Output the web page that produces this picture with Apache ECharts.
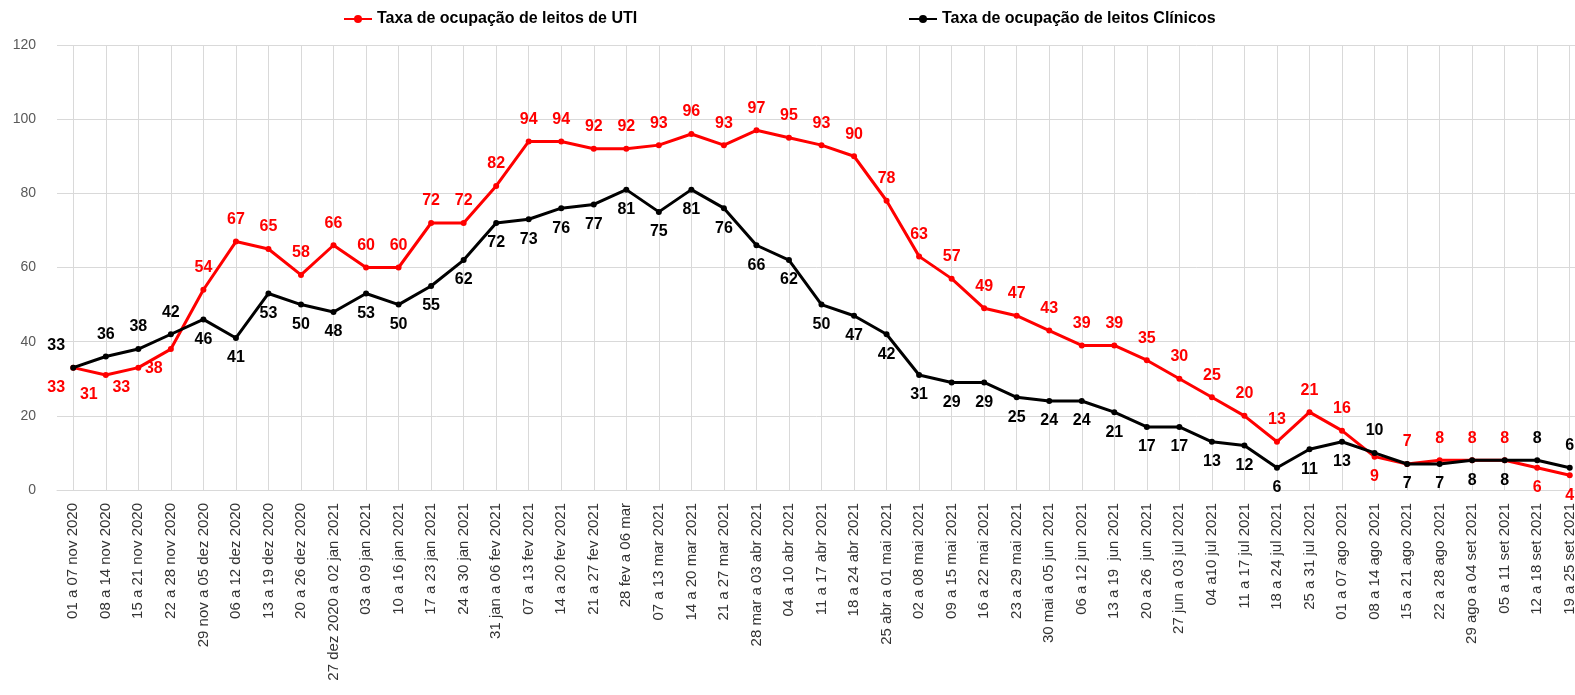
<!DOCTYPE html>
<html>
<head>
<meta charset="utf-8">
<script src="https://cdn.jsdelivr.net/npm/echarts@6/dist/echarts.min.js"></script>
<style>
html,body{margin:0;padding:0;background:#fff;}
#chart{width:1575px;height:695px;}
</style>
</head>
<body>
<div id="chart"></div>
<script>
const categories = [
  "01 a 07 nov 2020","08 a 14 nov 2020","15 a 21 nov 2020","22 a 28 nov 2020",
  "29 nov a 05 dez 2020","06 a 12 dez 2020","13 a 19 dez 2020","20 a 26 dez 2020",
  "27 dez 2020 a 02 jan 2021","03 a 09 jan 2021","10 a 16 jan 2021","17 a 23 jan 2021",
  "24 a 30 jan 2021","31 jan a 06 fev 2021","07 a 13 fev 2021","14 a 20 fev 2021",
  "21 a 27 fev 2021","28 fev a 06 mar","07 a 13 mar 2021","14 a 20 mar 2021",
  "21 a 27 mar 2021","28 mar a 03 abr 2021","04 a 10 abr 2021","11 a 17 abr 2021",
  "18 a 24 abr 2021","25 abr a 01 mai 2021","02 a 08 mai 2021","09 a 15 mai 2021",
  "16 a 22 mai 2021","23 a 29 mai 2021","30 mai a 05 jun 2021","06 a 12 jun 2021",
  "13 a 19  jun 2021","20 a 26  jun 2021","27 jun a 03 jul 2021","04 a10 jul 2021",
  "11 a 17 jul 2021","18 a 24 jul 2021","25 a 31 jul 2021","01 a 07 ago 2021",
  "08 a 14 ago 2021","15 a 21 ago 2021","22 a 28 ago 2021","29 ago a 04 set 2021",
  "05 a 11 set 2021","12 a 18 set 2021","19 a 25 set 2021"
];
const utiName = "Taxa de ocupação de leitos de UTI";
const clinName = "Taxa de ocupação de leitos Clínicos";
const utiValues = [33,31,33,38,54,67,65,58,66,60,60,72,72,82,94,94,92,92,93,96,93,97,95,93,90,78,63,57,49,47,43,39,39,35,30,25,20,13,21,16,9,7,8,8,8,6,4];
const clinValues = [33,36,38,42,46,41,53,50,48,53,50,55,62,72,73,76,77,81,75,81,76,66,62,50,47,42,31,29,29,25,24,24,21,17,17,13,12,6,11,13,10,7,7,8,8,8,6];
const yTicks = [0,20,40,60,80,100,120];

// label placement (layout only)
const utiBelow = [0,1,2,3,40,45,46];
const utiLeft = [0,1,2,3];
const clinAbove = [0,1,2,3,40,45,46];
const clinLeft = [0];

const RED = '#FF0000';
const LBL_FONT = 'Liberation Sans';

function buildData(values, below, left, defaultTop) {
  return values.map((v, i) => {
    const top = defaultTop ? !below.includes(i) : below.includes(i);
    const item = {
      value: v,
      label: {
        position: top ? 'top' : 'bottom',
        distance: top ? 11 : 9
      }
    };
    if (left.includes(i)) item.label.offset = [-17, 0];
    return item;
  });
}

const chart = echarts.init(document.getElementById('chart'), null, {renderer: 'canvas'});
chart.setOption({
  animation: false,
  backgroundColor: '#ffffff',
  grid: {left: 57, right: -11, top: 45, bottom: 205, containLabel: false, outerBoundsMode: 'none'},
  legend: [
    {data: [utiName], left: 338, top: 6, itemWidth: 28, itemHeight: 10, itemGap: 0,
     textStyle: {fontFamily: LBL_FONT, fontWeight: 'bold', fontSize: 16, color: '#000'}},
    {data: [clinName], left: 903, top: 6, itemWidth: 28, itemHeight: 10, itemGap: 0,
     textStyle: {fontFamily: LBL_FONT, fontWeight: 'bold', fontSize: 16, color: '#000'}}
  ],
  xAxis: {
    type: 'category',
    data: categories,
    boundaryGap: true,
    axisLine: {show: true, lineStyle: {color: '#d9d9d9', width: 1}},
    axisTick: {show: false},
    splitLine: {show: true, alignWithLabel: true, lineStyle: {color: '#d9d9d9', width: 1}},
    axisLabel: {
      interval: 0, rotate: 90, margin: 13,
      fontFamily: LBL_FONT, fontSize: 15, color: '#333333'
    }
  },
  yAxis: {
    type: 'value',
    min: yTicks[0], max: yTicks[yTicks.length - 1], interval: 20,
    axisLine: {show: false},
    axisTick: {show: false},
    splitLine: {show: true, lineStyle: {color: '#d9d9d9', width: 1}},
    axisLabel: {margin: 21, fontFamily: LBL_FONT, fontSize: 14, color: '#595959'}
  },
  series: [
    {
      name: utiName, type: 'line',
      data: buildData(utiValues, utiBelow, utiLeft, true),
      symbol: 'circle', symbolSize: 6,
      lineStyle: {color: RED, width: 3},
      itemStyle: {color: RED},
      label: {show: true, fontFamily: LBL_FONT, fontWeight: 'bold', fontSize: 16, color: RED},
      z: 3
    },
    {
      name: clinName, type: 'line',
      data: buildData(clinValues, clinAbove, clinLeft, false),
      symbol: 'circle', symbolSize: 6,
      lineStyle: {color: '#000', width: 3},
      itemStyle: {color: '#000'},
      label: {show: true, fontFamily: LBL_FONT, fontWeight: 'bold', fontSize: 16, color: '#000'},
      z: 4
    }
  ]
});
</script>
</body>
</html>
